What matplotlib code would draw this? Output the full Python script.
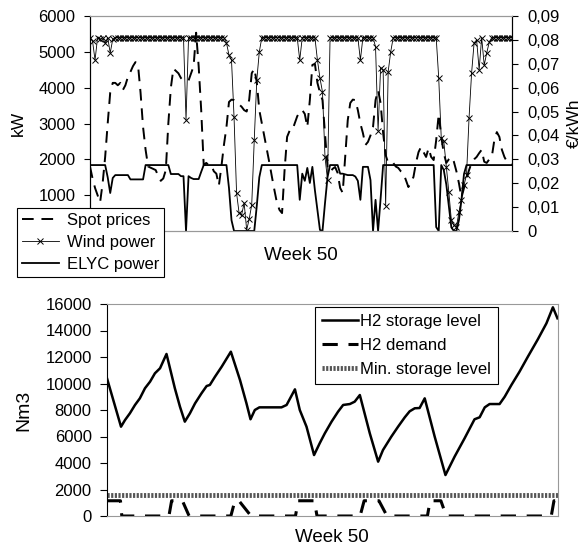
import numpy as np
import matplotlib.pyplot as plt

plt.rcParams['font.family'] = ['Liberation Sans', 'DejaVu Sans']
plt.rcParams['font.size'] = 12

# ---- top chart: hourly values, week 50 ----
hours = np.arange(168)

wind_kw = ([5400, 5300, 4770, 5400, 5350, 5400, 5240, 5400, 4970, 5350]
           + [5400] * 28 + [3100] + [5400] * 15
           + [5250, 4910, 4770, 3180, 1060, 500, 450, 780, 30, 335, 730, 2540, 4210, 5000]
           + [5400] * 15 + [4770] + [5400] * 6
           + [4770, 4270, 3880, 2065, 1420]
           + [5400] * 12 + [4770] + [5400] * 5
           + [5140, 2800, 4550, 4500, 700, 4450, 5000]
           + [5400] * 18
           + [4270, 2600, 2510, 1790, 1090, 300, 170, 110, 530, 865, 1280, 1560, 3150,
              4400, 5250, 5330, 4500, 5400, 4630, 4970, 5270]
           + [5400] * 9)

elyc_kw = ([1840] * 7 + [1500, 1060, 1480] + [1560] * 6 + [1440] * 6 + [1840] * 10
           + [1590] * 4 + [1530, 1530] + [0]
           + [1530, 1480, 1450, 1450, 1450, 1650] + [1840] * 10
           + [1200, 300] + [0] * 9 + [700, 1500] + [1840] * 15
           + [870, 1600, 1400, 1760, 1340, 1790, 1140, 590, 30, 0, 780, 1500]
           + [1840] * 4
           + [1600, 1600, 1580, 1560, 1560, 1560, 1520, 1400]
           + [870, 1790, 1790, 1790, 1420, 0, 870, 0, 900]
           + [1840] * 21
           + [110, 0, 1840, 1700, 1300, 700, 100, 0, 0, 300, 870, 1590]
           + [1840] * 19)

spot_price = [0.027, 0.022, 0.018, 0.015, 0.012, 0.020, 0.031, 0.045, 0.058, 0.062,
              0.062, 0.061, 0.062, 0.059, 0.061, 0.0645, 0.0666, 0.069, 0.0707, 0.0695,
              0.058, 0.0435, 0.034, 0.027, 0.0265, 0.026, 0.0255, 0.023, 0.021, 0.022,
              0.0255, 0.045, 0.060, 0.068, 0.067, 0.066, 0.064, 0.063, 0.063, 0.063,
              0.066, 0.069, 0.083, 0.069, 0.0507, 0.0276, 0.0285, 0.0276, 0.0276, 0.025,
              0.024, 0.019, 0.027, 0.036, 0.0435, 0.054, 0.055, 0.0548, 0.054, 0.053,
              0.052, 0.0506, 0.050, 0.055, 0.066, 0.068, 0.0624, 0.0506, 0.045, 0.0394,
              0.034, 0.0285, 0.0226, 0.017, 0.0117, 0.0088, 0.0075, 0.0255, 0.0394, 0.042,
              0.042, 0.045, 0.048, 0.050, 0.0506, 0.049, 0.0435, 0.0548, 0.0695, 0.070,
              0.062, 0.058, 0.0548, 0.041, 0.0268, 0.0247, 0.026, 0.0268, 0.0243, 0.018,
              0.016, 0.031, 0.0464, 0.0536, 0.055, 0.0548, 0.0506, 0.045, 0.041, 0.036,
              0.0373, 0.040, 0.0435, 0.0548, 0.059, 0.0536, 0.041, 0.0318, 0.0285, 0.0285,
              0.0285, 0.027, 0.0264, 0.025, 0.0243, 0.0213, 0.0184, 0.0205, 0.0226, 0.0285,
              0.033, 0.0352, 0.033, 0.031, 0.0347, 0.031, 0.0297, 0.038, 0.049, 0.0394,
              0.0326, 0.0285, 0.030, 0.031, 0.029, 0.025, 0.020, 0.014, 0.018, 0.022,
              0.0255, 0.0285, 0.030, 0.031, 0.0326, 0.034, 0.029, 0.0285, 0.030, 0.031,
              0.038, 0.0414, 0.0394, 0.034, 0.031, 0.029, 0.0285, 0.028]

# ---- bottom chart ----
storage_h = [0, 5.2, 6.7, 8.5, 10.4, 12.2, 14.1, 16, 17.8, 19.7, 22.1, 25.2, 27.1, 28.9,
             30.8, 32.7, 35.1, 37, 38.2, 40.1, 42.6, 46, 49.4, 51.8, 53.3, 54.9, 56.6,
             64.8, 66.7, 69.8, 71.6, 74.1, 76.9, 79, 80.9, 83.4, 85.8, 87.7, 90.2, 92,
             93.9, 97.6, 100.7, 102.5, 105.6, 108.1, 110.6, 112.4, 114.3, 116.1, 118,
             121.7, 125.7, 129.1, 132.8, 136.5, 138.4, 140.3, 142.1, 145.8, 147.7, 150.2,
             153.2, 156.3, 160, 163.2, 165.6, 167.3]
storage_nm3 = [10390, 6740, 7245, 7750, 8380, 8880, 9640, 10140, 10770, 11150, 12230,
               9640, 8250, 7120, 7750, 8500, 9260, 9810, 9890, 10510, 11270, 12400, 10260,
               8500, 7300, 8000, 8200, 8200, 8380, 9560, 8000, 6740, 4600, 5490, 6240,
               7120, 7870, 8380, 8450, 8630, 9130, 6240, 4100, 4980, 5990, 6740, 7450,
               7900, 8130, 8150, 8880, 5990, 3090, 4480, 5860, 7300, 7450, 8200, 8450,
               8450, 9000, 9890, 10890, 12020, 13330, 14540, 15750, 14920]

demand_h = [0, 5, 5.5, 23, 24, 28, 30.5, 46, 47.5, 49, 53.5, 70, 71, 77, 78, 94, 95.5,
            101, 104, 119, 120, 124, 126, 165, 166, 167.3]
demand_nm3 = [1150, 1150, 0, 0, 1150, 1150, 0, 0, 1150, 1150, 0, 0, 1150, 1150, 0, 0,
              1150, 1150, 0, 0, 1150, 1150, 0, 0, 1150, 1150]
min_storage = 1600

W, H = 585, 553
fig = plt.figure(figsize=(W/100, H/100), dpi=100)

# top
ax = fig.add_axes([90/W, 1-231/H, 422/W, 215/H])
ax2 = ax.twinx()
l_wind, = ax.plot(hours, wind_kw, color='k', lw=0.6, marker='x', ms=5, mew=0.7, label='Wind power')
l_elyc, = ax.plot(hours, elyc_kw, color='k', lw=1.3, label='ELYC power')
l_spot, = ax2.plot(hours, spot_price, color='k', lw=1.4, dashes=(6, 4), label='Spot prices')
ax.set_xlim(0, 167)
ax.set_ylim(0, 6000)
ax2.set_ylim(0, 0.09)
kt = np.arange(0, 6001, 1000)
ax.set_yticks(kt)
ax.set_yticklabels([''] + [str(v) for v in kt[1:]])
pt = np.arange(0, 0.0901, 0.01)
ax2.set_yticks(pt)
ax2.set_yticklabels(['0'] + [('%.2f' % v).replace('.', ',') for v in pt[1:]])
ax.set_xticks([])
for a in (ax, ax2):
    a.spines['top'].set_color('#999999')
    a.spines['bottom'].set_color('#999999')
    a.tick_params(direction='out', length=4.5, labelsize=12)
ax.tick_params(pad=6)
ax2.tick_params(length=4, pad=7)
fig.text(301/W, 1-255/H, 'Week 50', ha='center', va='center', fontsize=13.5)
fig.text(18/W, 1-123/H, 'kW', rotation=90, ha='center', va='center', fontsize=12.5)
fig.text(574/W, 1-123/H, '€/kWh', rotation=90, ha='center', va='center', fontsize=12.5)

leg = fig.legend([l_spot, l_wind, l_elyc], ['Spot prices', 'Wind power', 'ELYC power'],
                 loc='upper left', bbox_to_anchor=(17/W, 1-208/H), fancybox=False,
                 framealpha=1, edgecolor='k', fontsize=12, borderpad=0.3,
                 handlelength=2.2, handletextpad=0.5, labelspacing=0.42, borderaxespad=0)
leg.get_frame().set_linewidth(0.8)

# bottom
bx = fig.add_axes([107/W, 1-516/H, 451/W, 212/H])
b1, = bx.plot(storage_h, storage_nm3, color='k', lw=1.8, label='H2 storage level')
b2, = bx.plot(demand_h, demand_nm3, color='k', lw=2.2, dashes=(5, 3.5), label='H2 demand')
b3 = bx.axhline(min_storage, color='#555555', lw=3.5, ls=(0, (0.45, 0.3)), label='Min. storage level')
bx.set_xlim(0, 167.5)
bx.set_ylim(0, 16000)
bx.set_yticks(np.arange(0, 16001, 2000))
bx.set_xticks([])
for s in ('top', 'right', 'bottom'):
    bx.spines[s].set_color('#999999')
bx.tick_params(direction='out', length=5, pad=6, labelsize=12)
fig.text(332/W, 1-537/H, 'Week 50', ha='center', va='center', fontsize=13.5)
fig.text(24/W, 1-410/H, 'Nm3', rotation=90, ha='center', va='center', fontsize=14)
leg2 = bx.legend(loc='upper left', bbox_to_anchor=(315/W, 1-307/H),
                 bbox_transform=fig.transFigure, fancybox=False, framealpha=1,
                 edgecolor='k', fontsize=12, borderpad=0.4, handlelength=2.2,
                 handletextpad=0.1, labelspacing=0.55, borderaxespad=0)
leg2.get_frame().set_linewidth(0.8)

fig.savefig('out.png', dpi=100)
